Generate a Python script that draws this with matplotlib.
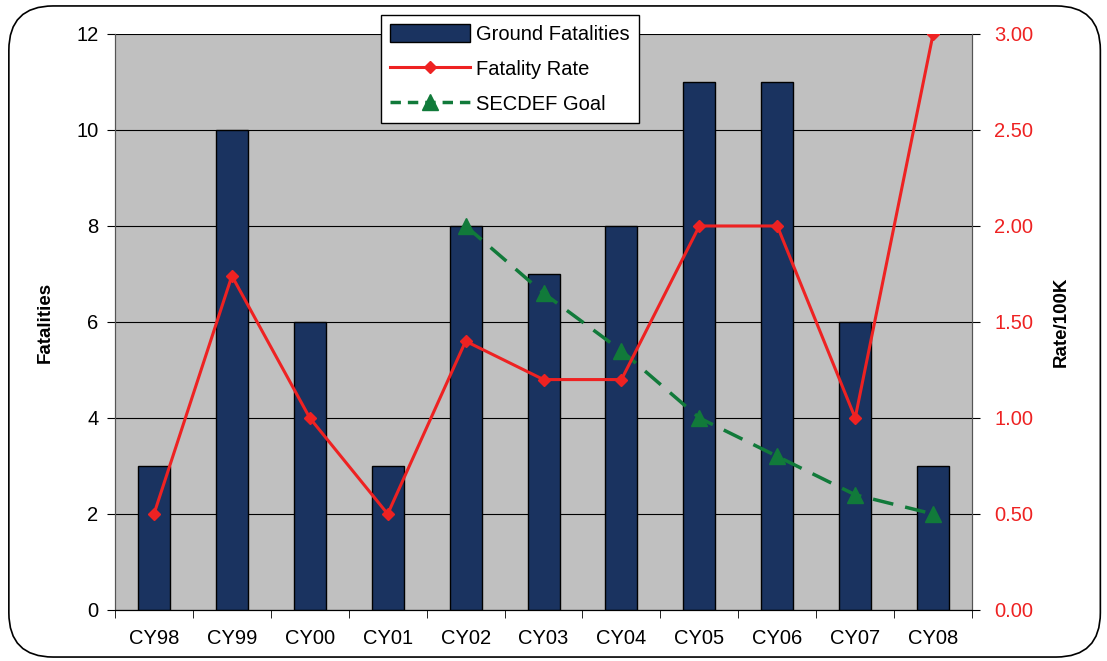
import numpy as np
import matplotlib.pyplot as plt
from matplotlib.patches import FancyBboxPatch
from matplotlib.lines import Line2D
from matplotlib.patches import Patch

plt.rcParams['font.family'] = ['Liberation Sans', 'DejaVu Sans']

years = ['CY98', 'CY99', 'CY00', 'CY01', 'CY02', 'CY03', 'CY04', 'CY05', 'CY06', 'CY07', 'CY08']
fatalities = [3, 10, 6, 3, 8, 7, 8, 11, 11, 6, 3]
fatality_rate = [0.50, 1.74, 1.00, 0.50, 1.40, 1.20, 1.20, 2.00, 2.00, 1.00, 3.00]
goal_years = ['CY02', 'CY03', 'CY04', 'CY05', 'CY06', 'CY07', 'CY08']
secdef_goal = [2.00, 1.65, 1.35, 1.00, 0.80, 0.60, 0.50]

fs = 14.5

fig = plt.figure(figsize=(11.07, 6.61), dpi=100)
# rounded outer border
fig.patches.append(FancyBboxPatch((0.008, 0.006), 0.986, 0.985, boxstyle="round,pad=0,rounding_size=0.04",
                                  transform=fig.transFigure, fill=False, edgecolor='black', linewidth=1.2,
                                  mutation_aspect=1107 / 661))

ax = fig.add_axes([0.1039, 0.0772, 0.7742, 0.8714])
ax.set_facecolor('#c0c0c0')
x = np.arange(len(years))
ax.bar(x, fatalities, width=0.41, color='#1a3360', edgecolor='black', linewidth=1, zorder=3)
ax.set_xlim(-0.5, len(years) - 0.5)
ax.set_ylim(0, 12)
ax.set_yticks(range(0, 13, 2))
ax.yaxis.grid(True, color='black', linewidth=0.8, zorder=0)
ax.set_axisbelow(True)
ax.set_xticks(x)
ax.set_xticklabels(years, fontsize=fs)
ax.tick_params(axis='x', length=0, pad=14)
ax.set_xticks(np.arange(-0.5, len(years)), minor=True)
ax.tick_params(axis='x', which='minor', length=6, direction='out', color='black')
ax.tick_params(axis='y', labelsize=fs, length=6, direction='out', pad=6, color='black')
ax.set_ylabel('Fatalities', fontsize=fs - 1, fontweight='bold', labelpad=16)
for s in ['left', 'right']:
    ax.spines[s].set_color('#555555')
ax.spines['top'].set_visible(False)

ax2 = ax.twinx()
ax2.set_ylim(0, 3)
ax2.set_yticks(np.arange(0, 3.01, 0.5))
ax2.set_yticklabels(['%.2f' % v for v in np.arange(0, 3.01, 0.5)])
ax2.tick_params(axis='y', labelsize=fs, labelcolor='#ee2222', length=6, direction='out', pad=10, color='black')
ax2.spines['top'].set_visible(False)
ax2.spines['right'].set_color('#555555')
ax2.spines['left'].set_color('#555555')
ax2.plot(x, fatality_rate, color='#ee2222', linewidth=2.2, marker='D', markersize=6.5, zorder=5)
gx = [years.index(y) for y in goal_years]
ax2.plot(gx, secdef_goal, color='#117a3a', linewidth=2.5, linestyle=(0, (6, 3.5)), marker='^', markersize=12, zorder=4)
ax2.set_ylabel('Rate/100K', fontsize=fs - 1, fontweight='bold', labelpad=14, rotation=90)

handles = [Patch(facecolor='#1a3360', edgecolor='black'),
           Line2D([], [], color='#ee2222', linewidth=2.2, marker='D', markersize=6.5),
           Line2D([], [], color='#117a3a', linewidth=2.5, linestyle=(0, (3, 2)), marker='^', markersize=12)]
leg = fig.legend(handles, ['Ground Fatalities', 'Fatality Rate', 'SECDEF Goal'],
                 loc='upper left', bbox_to_anchor=(0.344, 0.978), fontsize=fs, frameon=True,
                 fancybox=False, edgecolor='black', framealpha=1, handlelength=4.0, handleheight=1.0,
                 borderpad=0.45, labelspacing=0.75, handletextpad=0.3, borderaxespad=0)
leg.get_frame().set_linewidth(1)

fig.savefig('out.png', dpi=100)
